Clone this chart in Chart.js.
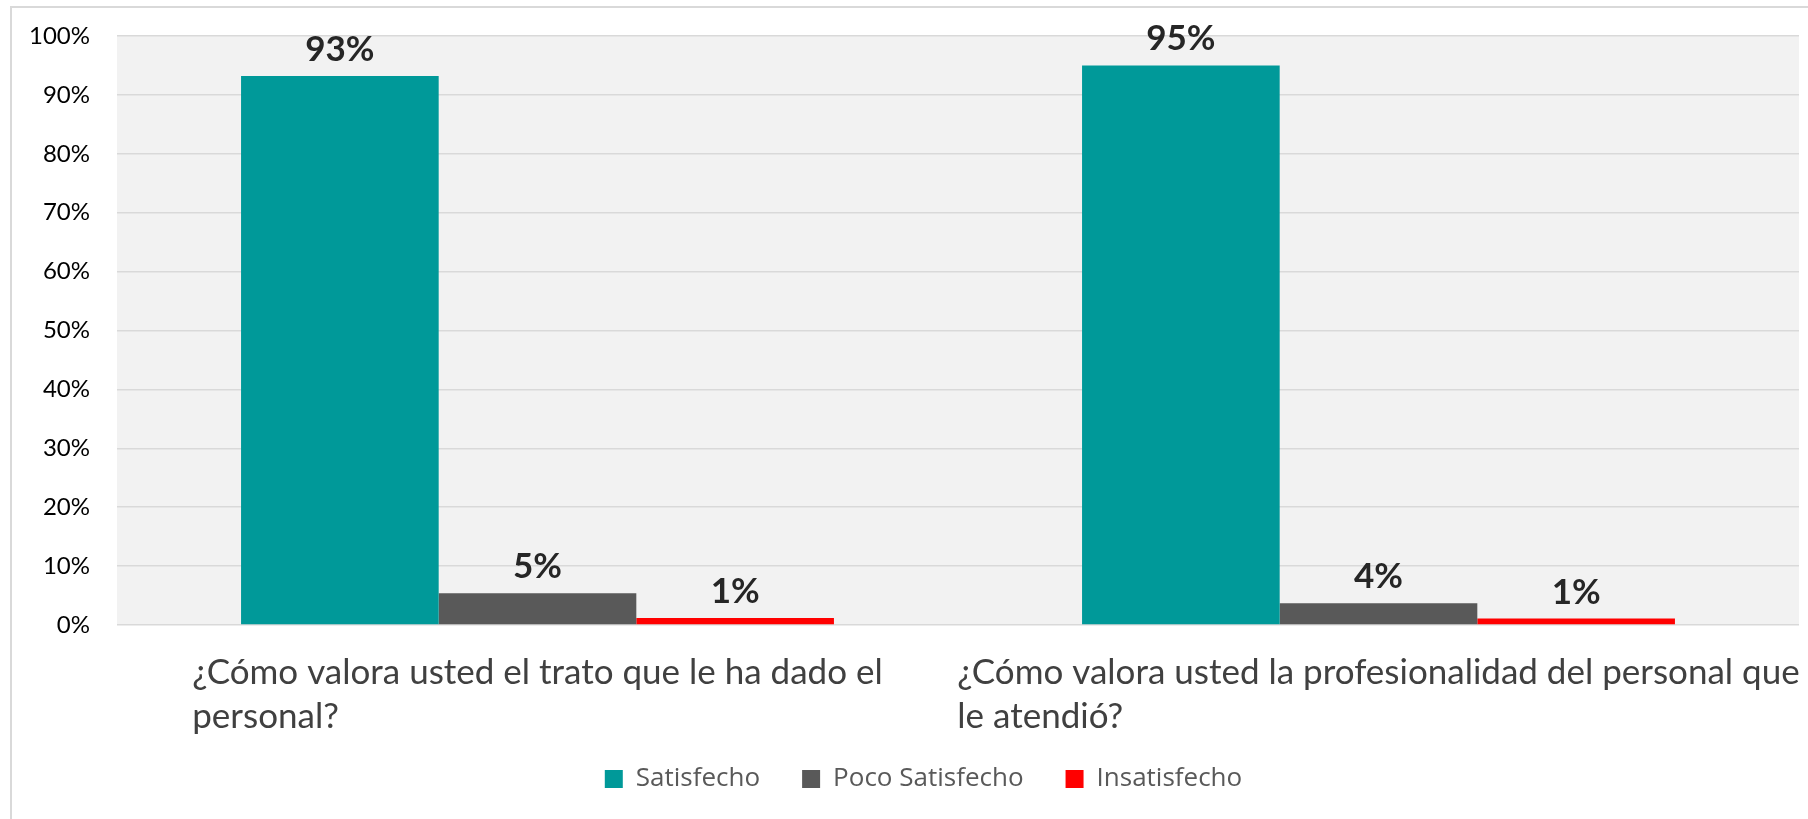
<!DOCTYPE html>
<html>
<head>
<meta charset="utf-8">
<script src="https://cdn.jsdelivr.net/npm/chart.js@4.4.0/dist/chart.umd.min.js"></script>
<style>
  html, body { margin: 0; padding: 0; background: #fff; }
</style>
</head>
<body>
<canvas id="chart" width="1808" height="819"></canvas>
<script>
const categories = [
  ['¿Cómo valora usted el trato que le ha dado el', 'personal?'],
  ['¿Cómo valora usted la profesionalidad del personal que', 'le atendió?']
];
const seriesNames = ['Satisfecho', 'Poco Satisfecho', 'Insatisfecho'];
const satisfecho = [93.2, 95.0];
const pocoSatisfecho = [5.4, 3.7];
const insatisfecho = [1.2, 1.1];
const seriesColors = ['#009999', '#595959', '#FF0000'];
const yMin = 0, yMax = 100, yStep = 10;

const labelFont = 'Lato';

// plot background + the light frame of the original chart box
const frame = {
  id: 'frame',
  afterLayout(chart) {
    // centre the legend on the framed box rather than the canvas
    chart.legend.left = 48;
  },
  beforeDraw(chart) {
    const { ctx, chartArea: a } = chart;
    ctx.save();
    ctx.fillStyle = '#fff';
    ctx.fillRect(0, 0, chart.width, chart.height);
    ctx.strokeStyle = '#D9D9D9';
    ctx.lineWidth = 2;
    ctx.beginPath();
    ctx.moveTo(chart.width, 7);
    ctx.lineTo(11, 7);
    ctx.lineTo(11, chart.height);
    ctx.stroke();
    ctx.fillStyle = '#F2F2F2';
    ctx.fillRect(a.left, a.top, a.right - a.left, a.bottom - a.top);
    ctx.restore();
  }
};

// value labels above each bar
const valueLabels = {
  id: 'valueLabels',
  afterDatasetsDraw(chart) {
    const { ctx } = chart;
    ctx.save();
    ctx.font = 'bold 35px ' + labelFont;
    ctx.fillStyle = '#262626';
    ctx.textAlign = 'center';
    ctx.textBaseline = 'alphabetic';
    chart.data.datasets.forEach((ds, di) => {
      chart.getDatasetMeta(di).data.forEach((bar, i) => {
        ctx.fillText(Math.round(ds.data[i]) + '%', bar.x, bar.y - 15);
      });
    });
    ctx.restore();
  }
};

// category labels: lines left aligned inside a block centred on the tick
const categoryLabels = {
  id: 'categoryLabels',
  afterDraw(chart) {
    const { ctx } = chart;
    const x = chart.scales.x;
    ctx.save();
    ctx.font = '35px ' + labelFont;
    ctx.fillStyle = '#404040';
    ctx.textAlign = 'left';
    ctx.textBaseline = 'alphabetic';
    categories.forEach((lines, i) => {
      const cx = x.getPixelForTick(i);
      const w = Math.max(...lines.map(l => ctx.measureText(l).width));
      lines.forEach((l, j) => ctx.fillText(l, cx - w / 2, x.top + 59 + j * 44));
    });
    ctx.restore();
  }
};

new Chart(document.getElementById('chart'), {
  type: 'bar',
  data: {
    labels: categories,
    datasets: [
      { label: seriesNames[0], data: satisfecho, backgroundColor: seriesColors[0] },
      { label: seriesNames[1], data: pocoSatisfecho, backgroundColor: seriesColors[1] },
      { label: seriesNames[2], data: insatisfecho, backgroundColor: seriesColors[2] }
    ]
  },
  options: {
    responsive: false,
    animation: false,
    devicePixelRatio: 1,
    layout: { padding: { top: 36, right: 9, left: 0, bottom: 17 } },
    datasets: { bar: { categoryPercentage: 0.705, barPercentage: 1, borderWidth: 0 } },
    scales: {
      x: {
        grid: { display: false },
        border: { display: false },
        ticks: { display: false },
        afterFit(scale) { scale.height = 99; }
      },
      y: {
        min: yMin,
        max: yMax,
        ticks: {
          stepSize: yStep,
          padding: 27,
          color: '#000',
          font: { family: labelFont, size: 24 },
          callback: v => v + '%'
        },
        grid: { color: '#D9D9D9', lineWidth: 1.5, drawTicks: false },
        border: { display: false },
        afterFit(scale) {
          scale.width = 117;
          // tick padding is horizontal here, don't let it push the plot down
          scale.paddingTop = 14;
          scale.paddingBottom = 14;
        }
      }
    },
    plugins: {
      legend: {
        position: 'bottom',
        labels: {
          boxWidth: 18,
          boxHeight: 18,
          padding: 42,
          color: '#595959',
          font: { family: 'Open Sans', size: 26 }
        }
      },
      tooltip: { enabled: false }
    }
  },
  plugins: [frame, valueLabels, categoryLabels]
});
</script>
</body>
</html>
